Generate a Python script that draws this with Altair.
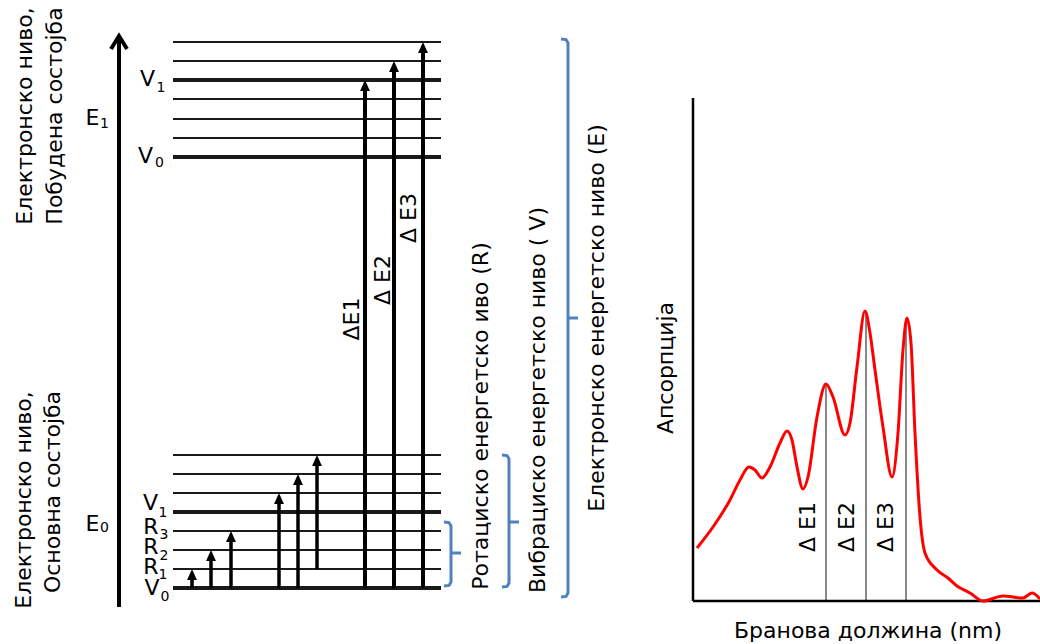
import altair as alt
import pandas as pd

FONT = "DejaVu Sans"

# ---------------- energy-level diagram (diagram units, y grows downward) ----------------
level_y = [42, 61, 80, 99, 119, 138, 157, 455, 474, 493, 512, 531, 550, 569, 588]
level_w = [2, 2, 4, 2, 2, 2, 4, 2, 2, 2, 4, 2, 2, 2, 4]   # thick = vibrational V levels
level_x_start = [173] * len(level_y)
level_x_end = [441] * len(level_y)

# energy axis (arrow)
axis_x = [119]
axis_from = [607]
axis_to = [36]
chevron_x = [111, 119, 127]
chevron_y = [49, 36, 49]

# transitions: small (rotational / vibrational) and large (electronic)
small_arrow_x = [192, 211, 231, 279, 298, 317]
small_arrow_from = [588, 588, 588, 588, 588, 569]
small_arrow_to = [569, 550, 531, 493, 474, 455]
big_arrow_x = [365, 394, 423]
big_arrow_from = [588, 588, 588]
big_arrow_to = [80, 61, 42]

# level labels (letter + subscript)
letter_text = ["V", "V", "E", "E", "V", "R", "R", "R", "V"]
letter_x = [147.5, 145.5, 92.5, 92.5, 150.5, 151, 151, 151, 152]
letter_y = [79, 156, 117.5, 524, 502.5, 527, 547, 566.5, 587.5]
sub_text = ["1", "0", "1", "0", "1", "3", "2", "1", "0"]
sub_x = [161, 159.5, 104.5, 104.5, 163, 164, 164, 163, 165]
sub_y = [88, 162.5, 124, 528, 513, 535, 556, 575, 597]

# blue braces
brace_x = [451, 509, 568]
brace_top = [522, 455, 39]
brace_bottom = [586, 587, 597]
brace_tip = [553, 522, 318]

# rotated texts
rot_text = ["Електронско ниво,", "Побудена состојба",
            "Електронско ниво,", "Основна состојба",
            "ΔE1", "Δ E2", "Δ E3",
            "Ротациско енергетско иво (R)",
            "Вибрациско енергетско ниво ( V)",
            "Електронско енергетско ниво (E)",
            "Апсорпција", "Δ E1", "Δ E2", "Δ E3"]
rot_x = [25, 55, 24, 53, 352, 383, 409, 481, 538, 597, 666, 808, 847, 886]
rot_y = [116, 116, 500, 492, 319, 280, 218, 416, 400, 318, 368, 527, 527, 527]

xtitle_text = ["Бранова должина (nm)"]
xtitle_x = [868]
xtitle_y = [631]

# ---------------- absorption spectrum ----------------
spec_axis_x0, spec_axis_y0 = [693], [98]
spec_axis_x1, spec_axis_y1 = [1040], [601]

spec_x = [697, 713, 730, 740, 749, 755, 762, 770, 780, 787, 792, 797, 803, 808, 817, 826,
          833, 845, 850, 857, 865, 870, 875, 883, 892, 898, 903, 907, 911, 915, 920, 925,
          937, 948, 957, 970, 983, 1003, 1023, 1032, 1040]
spec_y = [548, 527, 500, 480, 467, 470, 478, 467, 443, 431, 440, 467, 489, 477, 417, 384,
          397, 435, 423, 367, 311, 333, 370, 427, 477, 433, 350, 318, 343, 433, 517, 553,
          570, 578, 586, 593, 601, 596, 598, 593, 599]

peak_x = [826, 866, 906]
peak_y = [384, 311, 318]
peak_base = [601, 601, 601]

# ---------------- build ----------------
xs = alt.Scale(domain=[0, 1040], nice=False, zero=False)
ys = alt.Scale(domain=[0, 644], reverse=True, nice=False, zero=False)


def X(f):
    return alt.X(f, type="quantitative", scale=xs, axis=None)


def Y(f):
    return alt.Y(f, type="quantitative", scale=ys, axis=None)


levels = pd.DataFrame({"y": level_y, "w": level_w, "x0": level_x_start, "x1": level_x_end})
levels_layer = alt.Chart(levels).mark_rule(color="#1a1a1a").encode(
    x=X("x0"), x2="x1", y=Y("y"), strokeWidth=alt.StrokeWidth("w:Q", scale=None))

axis_df = pd.DataFrame({"x": axis_x, "y0": axis_from, "y1": axis_to})
axis_layer = alt.Chart(axis_df).mark_rule(color="black", strokeWidth=4).encode(
    x=X("x"), y=Y("y0"), y2="y1")
chev_df = pd.DataFrame({"x": chevron_x, "y": chevron_y, "o": [0, 1, 2]})
chev_layer = alt.Chart(chev_df).mark_line(color="black", strokeWidth=4, strokeJoin="miter").encode(
    x=X("x"), y=Y("y"), order="o:Q")

arrows = pd.DataFrame({
    "x": small_arrow_x + big_arrow_x,
    "y0": small_arrow_from + big_arrow_from,
    "y1": small_arrow_to + big_arrow_to,
    "w": [3.5] * len(small_arrow_x) + [4] * len(big_arrow_x),
})
shaft_layer = alt.Chart(arrows).transform_calculate(ye="datum.y1 + 8").mark_rule(color="black").encode(
    x=X("x"), y=Y("y0"), y2="ye:Q", strokeWidth=alt.StrokeWidth("w:Q", scale=None))
head_layer = alt.Chart(arrows).mark_point(
    shape="M0,0L-0.9,2L0.9,2Z", filled=True, size=121, color="black", opacity=1, strokeWidth=0
).encode(x=X("x"), y=Y("y1"))

letters = pd.DataFrame({"t": letter_text, "x": letter_x, "y": letter_y})
letter_layer = alt.Chart(letters).mark_text(font=FONT, fontSize=22, color="black",
                                            align="center", baseline="middle").encode(
    x=X("x"), y=Y("y"), text="t:N")
subs = pd.DataFrame({"t": sub_text, "x": sub_x, "y": sub_y})
sub_layer = alt.Chart(subs).mark_text(font=FONT, fontSize=14, color="black",
                                      align="center", baseline="middle").encode(
    x=X("x"), y=Y("y"), text="t:N")

# braces as polylines + tip stubs
brace_rows = []
for i, (bx, bt, bb) in enumerate(zip(brace_x, brace_top, brace_bottom)):
    pts = [(bx - 7, bt), (bx - 2, bt + 0.6), (bx, bt + 4), (bx, bb - 4), (bx - 2, bb - 0.6), (bx - 7, bb)]
    for j, (px, py) in enumerate(pts):
        brace_rows.append({"b": i, "o": j, "x": px, "y": py})
brace_df = pd.DataFrame(brace_rows)
brace_layer = alt.Chart(brace_df).mark_line(color="#4f81bd", strokeWidth=3).encode(
    x=X("x"), y=Y("y"), detail="b:N", order="o:Q")
tips = pd.DataFrame({"x": brace_x, "y": brace_tip})
tip_layer = alt.Chart(tips).transform_calculate(x2="datum.x + 10").mark_rule(
    color="#4f81bd", strokeWidth=3).encode(x=X("x"), x2="x2:Q", y=Y("y"))

rot = pd.DataFrame({"t": rot_text, "x": rot_x, "y": rot_y})
rot_layer = alt.Chart(rot).mark_text(font=FONT, fontSize=22, color="black", angle=270,
                                     align="center", baseline="middle").encode(
    x=X("x"), y=Y("y"), text="t:N")
xt = pd.DataFrame({"t": xtitle_text, "x": xtitle_x, "y": xtitle_y})
xt_layer = alt.Chart(xt).mark_text(font=FONT, fontSize=22, color="black",
                                   align="center", baseline="middle").encode(
    x=X("x"), y=Y("y"), text="t:N")

# spectrum axes
sax = pd.DataFrame({"x0": spec_axis_x0, "y0": spec_axis_y0, "x1": spec_axis_x1, "y1": spec_axis_y1})
yaxis_layer = alt.Chart(sax).mark_rule(color="black", strokeWidth=2.5).encode(
    x=X("x0"), y=Y("y0"), y2="y1")
xaxis_layer = alt.Chart(sax).mark_rule(color="black", strokeWidth=2.5).encode(
    x=X("x0"), x2="x1", y=Y("y1"))

peaks = pd.DataFrame({"x": peak_x, "y": peak_y, "b": peak_base})
peak_layer = alt.Chart(peaks).mark_rule(color="#6b6b6b", strokeWidth=1.6).encode(
    x=X("x"), y=Y("b"), y2="y")

spec = pd.DataFrame({"x": spec_x, "y": spec_y})
spec_layer = alt.Chart(spec).mark_line(color="#ff0000", strokeWidth=3, interpolate="monotone").encode(
    x=X("x"), y=Y("y"))

chart = alt.layer(
    levels_layer, axis_layer, chev_layer, shaft_layer, head_layer,
    letter_layer, sub_layer, brace_layer, tip_layer, rot_layer, xt_layer,
    peak_layer, yaxis_layer, xaxis_layer, spec_layer,
).properties(
    width=1040, height=644, padding=0, autosize="none", background="white"
).configure_view(stroke=None)

chart.save("out.html", embed_options={"renderer": "svg", "actions": False})
